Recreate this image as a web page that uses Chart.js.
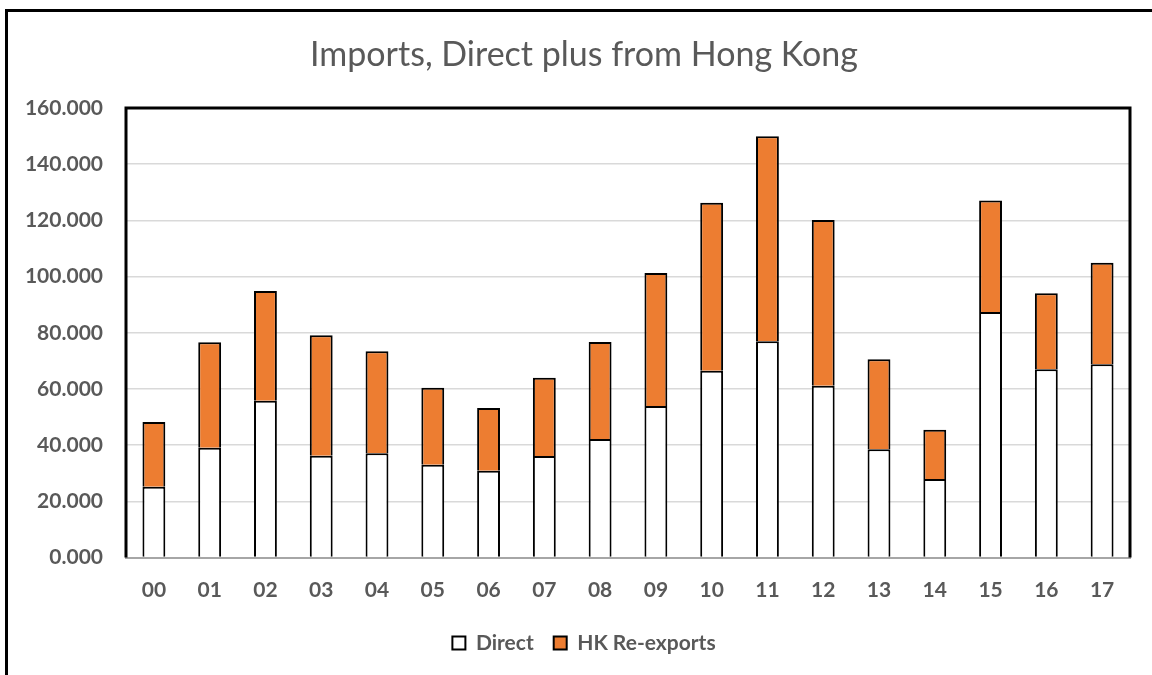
<!DOCTYPE html>
<html>
<head>
<meta charset="utf-8">
<title>Imports, Direct plus from Hong Kong</title>
<script src="https://cdn.jsdelivr.net/npm/chart.js@4"></script>
<style>
  html, body { margin: 0; padding: 0; background: #fff; overflow: hidden; }
  #wrap { position: relative; width: 1152px; height: 675px; }
  #frame {
    position: absolute; left: 5px; top: 9px; width: 1200px; height: 800px;
    border-top: 3px solid #000; border-left: 3px solid #000; pointer-events: none;
  }
  canvas { position: absolute; left: 0; top: 0; }
</style>
</head>
<body>
<div id="wrap">
  <canvas id="grafico" width="1152" height="675"></canvas>
  <div id="frame"></div>
</div>
<script>
var anos = ['00', '01', '02', '03', '04', '05', '06', '07', '08', '09', '10', '11', '12', '13', '14', '15', '16', '17'];
var direct = [25.2, 39.1, 55.8, 36.2, 37.1, 33.0, 30.9, 36.1, 42.2, 53.9, 66.5, 77.0, 61.1, 38.5, 27.9, 87.4, 67.0, 68.8];
var hkReexports = [23.0, 37.5, 39.1, 42.9, 36.3, 27.4, 22.3, 27.9, 34.5, 47.4, 59.8, 72.9, 59.0, 32.1, 17.6, 39.7, 27.1, 36.1];
var yMax = 160;
var yStep = 20;

var cinza = '#595959';
var fonte = 'Lato, "Open Sans", sans-serif';

// moldura preta em cima, à esquerda e à direita da área do gráfico
var moldura = {
    id: 'moldura',
    afterLayout: function (chart) {
        // deixa os rótulos do eixo y passarem da margem esquerda sem serem cortados
        chart.scales.y.left = 0;
    },
    afterDatasetsDraw: function (chart) {
        var a = chart.chartArea;
        var c = chart.ctx;
        c.save();
        c.strokeStyle = '#000';
        c.lineWidth = 3;
        c.beginPath();
        c.moveTo(a.left, a.bottom);
        c.lineTo(a.left, a.top);
        c.lineTo(a.right, a.top);
        c.lineTo(a.right, a.bottom);
        c.stroke();
        c.restore();
    }
};

var ctx = document.getElementById('grafico').getContext('2d');
var grafico = new Chart(ctx, {
    type: 'bar',
    data: {
        labels: anos,
        datasets: [{
            label: 'Direct',
            data: direct,
            backgroundColor: '#ffffff',
            borderColor: '#000000',
            borderWidth: 2,
            borderSkipped: 'bottom'
        }, {
            label: 'HK Re-exports',
            data: hkReexports,
            backgroundColor: '#ED7D31',
            borderColor: '#000000',
            borderWidth: 2,
            borderSkipped: 'bottom'
        }]
    },
    options: {
        responsive: false,
        animation: false,
        devicePixelRatio: 1,
        datasets: {
            bar: { categoryPercentage: 1, barPercentage: 0.41 }
        },
        layout: {
            padding: { top: 0, left: 38, right: 22, bottom: 11.5 }
        },
        scales: {
            x: {
                stacked: true,
                grid: { display: false, drawTicks: false },
                border: { color: '#a6a6a6', width: 2 },
                ticks: {
                    color: cinza,
                    padding: 20,
                    font: { family: fonte, size: 21, weight: 'bold' }
                },
                afterFit: function (s) { s.height = 55; }
            },
            y: {
                stacked: true,
                min: 0,
                max: yMax,
                grid: { color: '#d9d9d9', lineWidth: 1.5, drawTicks: false },
                border: { display: false },
                ticks: {
                    stepSize: yStep,
                    color: cinza,
                    padding: 23,
                    font: { family: fonte, size: 21, weight: 'bold' },
                    callback: function (v) { return v.toFixed(3); }
                },
                afterFit: function (s) { s.width = 88; }
            }
        },
        plugins: {
            title: {
                display: true,
                text: 'Imports, Direct plus from Hong Kong',
                color: cinza,
                font: { family: fonte, size: 34, weight: 'normal' },
                padding: { top: 35, bottom: 32.2 }
            },
            legend: {
                position: 'bottom',
                labels: {
                    boxWidth: 13,
                    boxHeight: 13,
                    padding: 20,
                    color: cinza,
                    font: { family: fonte, size: 21, weight: 'bold' }
                }
            },
            tooltip: { enabled: false }
        }
    },
    plugins: [moldura]
});
</script>
</body>
</html>
